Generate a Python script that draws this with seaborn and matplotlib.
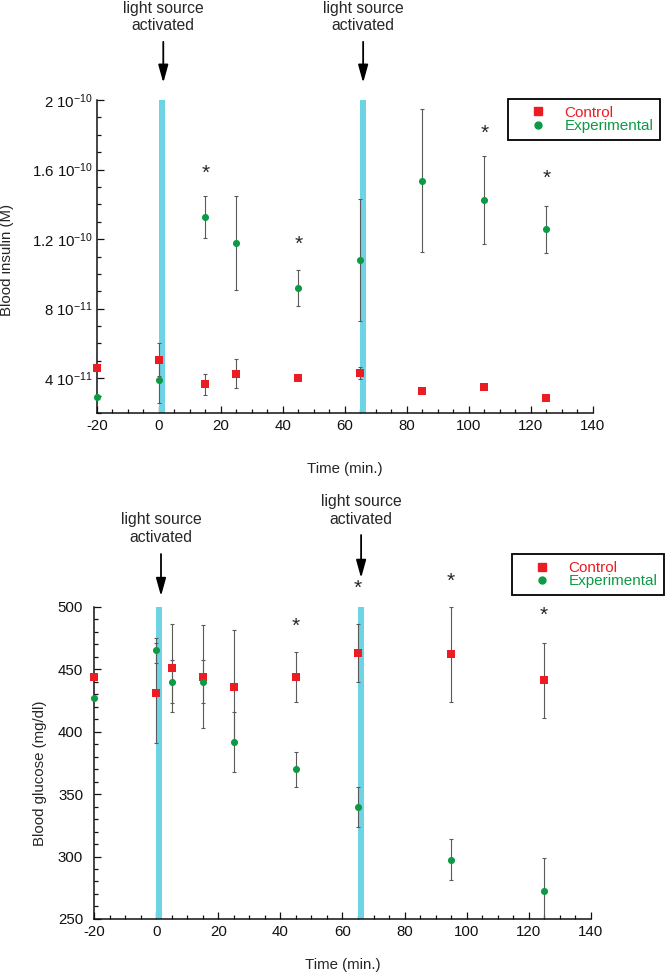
import numpy as np
import pandas as pd
import matplotlib
matplotlib.use("Agg")
import matplotlib.pyplot as plt
import matplotlib.transforms as mtransforms
from matplotlib.lines import Line2D
from matplotlib.ticker import FixedLocator, MultipleLocator
import seaborn as sns

# --- data ---
ins_time = [-20, 0, 15, 25, 45, 65, 85, 105, 125]
ins_ctrl = [4.56e-11, 5.07e-11, 3.64e-11, 4.27e-11, 4.04e-11, 4.30e-11, 3.27e-11, 3.50e-11, 2.87e-11]
ins_ctrl_err = [0, 0.95e-11, 0.63e-11, 0.85e-11, 0.10e-11, 0.35e-11, 0, 0.10e-11, 0]
ins_exp = [2.91e-11, 3.89e-11, 13.27e-11, 11.78e-11, 9.19e-11, 10.78e-11, 15.36e-11, 14.25e-11, 12.56e-11]
ins_exp_err = [0, 1.3e-11, 1.2e-11, 2.7e-11, 1.05e-11, 3.5e-11, 4.1e-11, 2.55e-11, 1.35e-11]
ins_star_x = [15, 45, 105, 125]
ins_star_y = [15.8e-11, 11.7e-11, 18.1e-11, 15.5e-11]
ins_ticks = [4e-11, 8e-11, 1.2e-10, 1.6e-10, 2e-10]
ins_ticklabels = [r"4 10$^{-11}$", r"8 10$^{-11}$", r"1.2 10$^{-10}$", r"1.6 10$^{-10}$", r"2 10$^{-10}$"]

glu_time = [-20, 0, 5, 15, 25, 45, 65, 95, 125]
glu_ctrl = [444, 431, 451, 444, 435.5, 444, 463, 462, 441]
glu_ctrl_err = [0, 40, 35, 41, 45.5, 20, 23, 38, 30]
glu_exp = [427, 465, 440, 440, 391.5, 370, 340, 297.5, 272]
glu_exp_err = [0, 10, 17, 17, 24, 14, 16, 16.5, 26.5]
glu_star_x = [45, 65, 95, 125]
glu_star_y = [484, 514.6, 520, 492.8]

light_on = [(0, 1.8), (65, 66.8)]
groups = ["Control", "Experimental"]

RED = "#ec1c24"
GREEN = "#0d9a45"
CYAN = "#6dd4e6"

sns.set_style("ticks")
plt.rcParams["font.family"] = ["Liberation Sans", "DejaVu Sans"]
plt.rcParams["mathtext.fontset"] = "custom"
plt.rcParams["mathtext.rm"] = "Liberation Sans"
plt.rcParams["mathtext.it"] = "Liberation Sans:italic"
plt.rcParams["axes.unicode_minus"] = False

fig = plt.figure(figsize=(6.66, 9.74), dpi=100)
ax1 = fig.add_axes([0.1456, 0.576, 0.7444, 0.3213])
ax2 = fig.add_axes([0.1416, 0.0565, 0.7453, 0.3206])


def make_frame(time, ctrl, ctrl_err, exp, exp_err):
    n = len(time)
    return pd.DataFrame({
        "time": list(time) * 2,
        "value": list(ctrl) + list(exp),
        "err": list(ctrl_err) + list(exp_err),
        "group": [groups[0]] * n + [groups[1]] * n,
    })


def draw_panel(ax, df):
    for lo, hi in light_on:
        ax.axvspan(lo, hi, color=CYAN, lw=0, zorder=1)
    for g in groups:
        sub = df[(df["group"] == g) & (df["err"] > 0)]
        ax.errorbar(sub["time"], sub["value"], yerr=sub["err"], fmt="none",
                    ecolor="#5a5a5a", elinewidth=0.8, capsize=1.6, capthick=0.8, zorder=2)
    sns.scatterplot(data=df[df["group"] == "Control"], x="time", y="value", marker="s",
                    color=RED, s=30, linewidth=0, ax=ax, zorder=4, clip_on=False)
    sns.scatterplot(data=df[df["group"] == "Experimental"], x="time", y="value", marker="o",
                    color=GREEN, s=26, linewidth=0, ax=ax, zorder=4, clip_on=False)
    ax.set_xlim(-20, 140)
    ax.xaxis.set_major_locator(MultipleLocator(20))
    ax.xaxis.set_minor_locator(MultipleLocator(5))
    sns.despine(ax=ax)
    for s in ["left", "bottom"]:
        ax.spines[s].set_linewidth(1.1)
        ax.spines[s].set_color("#111111")
    ax.tick_params(which="both", direction="in", width=0.9, colors="#111111", labelsize=10.8)
    ax.tick_params(which="major", length=5)
    ax.tick_params(which="minor", length=3)
    ax.tick_params(axis="x", pad=4)
    ax.grid(False)


def light_label(ax, x, text_y, tail_y, tip_y):
    trans = mtransforms.blended_transform_factory(ax.transData, ax.transAxes)
    ax.text(x, text_y, "light source\nactivated", transform=trans, ha="center", va="center",
            fontsize=11.3, linespacing=1.2)
    ax.annotate("", xy=(x, tip_y), xycoords=("data", "axes fraction"),
                xytext=(x, tail_y), textcoords=("data", "axes fraction"),
                arrowprops=dict(arrowstyle="-|>,head_length=0.9,head_width=0.25",
                                color="black", lw=1.3, mutation_scale=12, shrinkA=0, shrinkB=0))


def add_legend(anchor):
    handles = [
        Line2D([], [], marker="s", ls="", color=RED, ms=5.3),
        Line2D([], [], marker="o", ls="", color=GREEN, ms=5.0),
    ]
    leg = fig.legend(handles, groups, loc="upper right", bbox_to_anchor=anchor,
                     bbox_transform=fig.transFigure, fontsize=11, labelcolor=[RED, GREEN],
                     frameon=True, fancybox=False, edgecolor="black", framealpha=1,
                     handlelength=3.0, handletextpad=0.25, labelspacing=-0.05, borderpad=0.45,
                     borderaxespad=0)
    leg.get_frame().set_linewidth(1.3)


# --- top: insulin ---
df_ins = make_frame(ins_time, ins_ctrl, ins_ctrl_err, ins_exp, ins_exp_err)
draw_panel(ax1, df_ins)
ax1.set_ylim(2e-11, 2e-10)
ax1.yaxis.set_major_locator(FixedLocator(ins_ticks))
ax1.set_yticklabels(ins_ticklabels)
ax1.yaxis.set_minor_locator(MultipleLocator(1e-11))
ax1.tick_params(axis="y", pad=3)
ax1.set_xlabel("Time (min.)", fontsize=10.8)
ax1.set_ylabel("Blood insulin (M)", fontsize=10.8)
ax1.xaxis.set_label_coords(0.5, -0.157)
ax1.yaxis.set_label_coords(-0.167, 0.489)
for x, y in zip(ins_star_x, ins_star_y):
    ax1.text(x, y, "*", ha="center", va="center", fontsize=15)
light_label(ax1, 1.4, 1.266, 1.186, 1.055)
light_label(ax1, 65.9, 1.266, 1.186, 1.055)
add_legend((0.991, 0.8985))

# --- bottom: glucose ---
df_glu = make_frame(glu_time, glu_ctrl, glu_ctrl_err, glu_exp, glu_exp_err)
draw_panel(ax2, df_glu)
ax2.set_ylim(250, 500)
ax2.yaxis.set_major_locator(MultipleLocator(50))
ax2.yaxis.set_minor_locator(MultipleLocator(10))
ax2.tick_params(axis="y", pad=8)
ax2.set_xlabel("Time (min.)", fontsize=10.8)
ax2.set_ylabel("Blood glucose (mg/dl)", fontsize=10.8)
ax2.xaxis.set_label_coords(0.5, -0.125)
ax2.yaxis.set_label_coords(-0.095, 0.466)
for x, y in zip(glu_star_x, glu_star_y):
    ax2.text(x, y, "*", ha="center", va="center", fontsize=15)
light_label(ax2, 1.5, 1.2504, 1.1687, 1.034)
light_label(ax2, 66.0, 1.3087, 1.2296, 1.0919)
add_legend((0.997, 0.4312))

fig.savefig("out.png", dpi=100)
